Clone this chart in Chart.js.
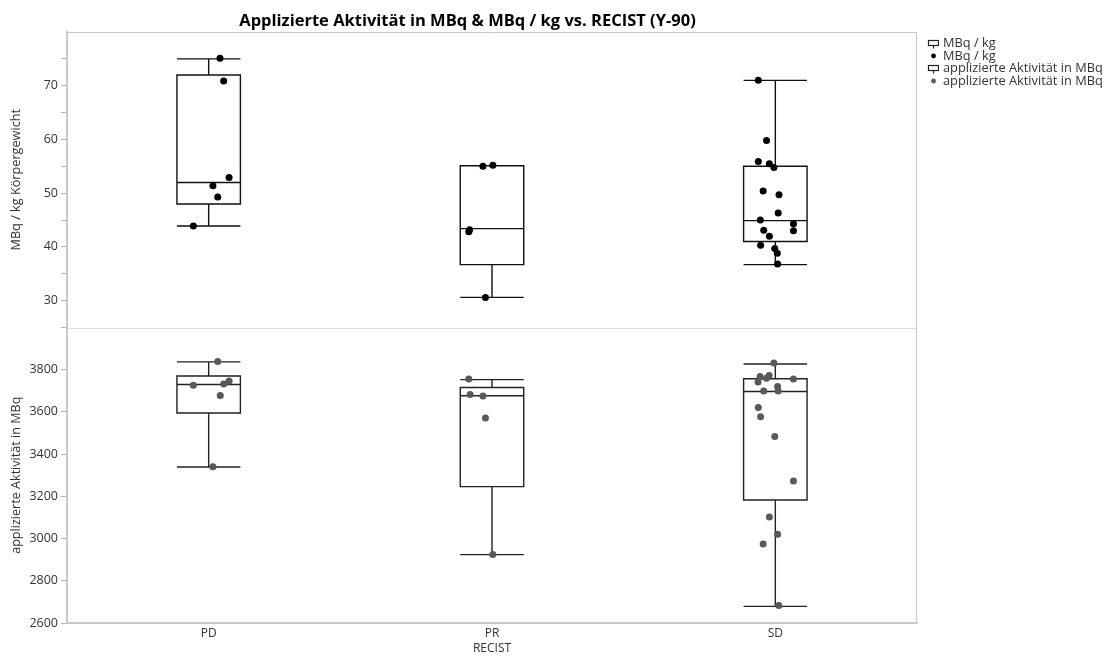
<!DOCTYPE html>
<html>
<head>
<meta charset="utf-8">
<script src="https://cdn.jsdelivr.net/npm/chart.js@4"></script>
<style>
  body { margin: 0; background: #fff; font-family: "Open Sans", sans-serif; }
  #wrap { position: relative; width: 935px; height: 657px; }
  #legend { position: absolute; left: 925px; top: 36px; font-size: 12.8px; color: #333; }
  #legend div { height: 12.5px; line-height: 12.5px; white-space: nowrap; }
  #legend svg { vertical-align: middle; margin-right: 4px; }
</style>
</head>
<body>
<div id="wrap"><canvas id="chart"></canvas></div>
<div id="legend"></div>
<script>
var CATEGORIES = ['PD', 'PR', 'SD'];

// MBq / kg Körpergewicht (upper panel)
var KG_PD = [75.1, 70.9, 52.9, 51.4, 49.3, 43.9];
var KG_PD_JIT = [0.040, 0.053, 0.072, 0.015, 0.032, -0.054];
var KG_PR = [55.0, 55.2, 43.2, 42.8, 30.6];
var KG_PR_JIT = [-0.032, 0.003, -0.079, -0.082, -0.023];
var KG_SD = [71.0, 59.8, 55.9, 55.5, 54.8, 50.4, 49.7, 46.3, 45.0, 44.3, 43.0, 43.1, 42.0, 40.3, 39.7, 38.8, 36.8];
var KG_SD_JIT = [-0.060, -0.031, -0.060, -0.021, -0.005, -0.043, 0.013, 0.010, -0.053, 0.064, 0.064, -0.041, -0.021, -0.052, -0.002, 0.007, 0.008];
var KG_LOW = [43.9, 30.6, 36.7];
var KG_Q1 = [48.0, 36.7, 41.0];
var KG_MED = [52.0, 43.4, 44.9];
var KG_Q3 = [72.0, 55.1, 55.0];
var KG_HIGH = [75.0, 55.1, 71.0];

// applizierte Aktivität in MBq (lower panel)
var MBQ_PD = [3839, 3726, 3732, 3746, 3678, 3340];
var MBQ_PD_JIT = [0.032, -0.054, 0.053, 0.072, 0.041, 0.015];
var MBQ_PR = [3756, 3682, 3675, 3571, 2924];
var MBQ_PR_JIT = [-0.082, -0.077, -0.032, -0.023, 0.003];
var MBQ_SD = [3832, 3768, 3772, 3759, 3742, 3756, 3721, 3699, 3699, 3621, 3577, 3483, 3273, 3102, 3020, 2974, 2683];
var MBQ_SD_JIT = [-0.005, -0.054, -0.022, -0.031, -0.061, 0.064, 0.008, 0.010, -0.041, -0.060, -0.052, -0.002, 0.064, -0.021, 0.008, -0.043, 0.012];
var MBQ_LOW = [3339, 2924, 2679];
var MBQ_Q1 = [3595, 3246, 3183];
var MBQ_MED = [3730, 3677, 3697];
var MBQ_Q3 = [3770, 3716, 3757];
var MBQ_HIGH = [3837, 3753, 3827];

var KG_TICKS = [25, 30, 35, 40, 45, 50, 55, 60, 65, 70, 75];
var MBQ_TICKS = [2600, 2800, 3000, 3200, 3400, 3600, 3800];

var BOX_HALF = 0.112;
var TXT = '#333333';
var FRAME = '#c8c8c8';

function points(groups, jits) {
  var out = [];
  groups.forEach(function(vals, ci) {
    vals.forEach(function(v, k) {
      out.push({ x: ci + jits[ci][k], y: v });
    });
  });
  return out;
}

var boxSets = [
  { axis: 'yTop', low: KG_LOW, q1: KG_Q1, med: KG_MED, q3: KG_Q3, high: KG_HIGH, color: '#111111' },
  { axis: 'yBot', low: MBQ_LOW, q1: MBQ_Q1, med: MBQ_MED, q3: MBQ_Q3, high: MBQ_HIGH, color: '#222222' }
];

var boxPlugin = {
  id: 'boxes',
  beforeDatasetsDraw: function(chart) {
    var ctx = chart.ctx, xs = chart.scales.x;
    var half = BOX_HALF * (xs.getPixelForValue(1) - xs.getPixelForValue(0));
    ctx.save();
    ctx.lineWidth = 1.4;
    boxSets.forEach(function(b) {
      var ys = chart.scales[b.axis];
      ctx.strokeStyle = b.color;
      for (var i = 0; i < CATEGORIES.length; i++) {
        var xc = xs.getPixelForValue(i);
        var lo = ys.getPixelForValue(b.low[i]), q1 = ys.getPixelForValue(b.q1[i]);
        var md = ys.getPixelForValue(b.med[i]), q3 = ys.getPixelForValue(b.q3[i]);
        var hi = ys.getPixelForValue(b.high[i]);
        ctx.beginPath();
        ctx.rect(xc - half, q3, 2 * half, q1 - q3);
        ctx.moveTo(xc - half, md); ctx.lineTo(xc + half, md);
        ctx.moveTo(xc, q3); ctx.lineTo(xc, hi);
        ctx.moveTo(xc, q1); ctx.lineTo(xc, lo);
        ctx.moveTo(xc - half, hi); ctx.lineTo(xc + half, hi);
        ctx.moveTo(xc - half, lo); ctx.lineTo(xc + half, lo);
        ctx.stroke();
      }
    });
    ctx.restore();
  },
  afterDraw: function(chart) {
    var ctx = chart.ctx, a = chart.chartArea;
    var sep = chart.scales.yTop.bottom;
    ctx.save();
    ctx.strokeStyle = FRAME;
    ctx.lineWidth = 1;
    ctx.beginPath();
    ctx.moveTo(a.left, a.top + 0.5); ctx.lineTo(a.right - 0.5, a.top + 0.5);
    ctx.lineTo(a.right - 0.5, a.bottom);
    ctx.stroke();
    ctx.strokeStyle = '#dcdcdc';
    ctx.beginPath();
    ctx.moveTo(a.left, Math.round(sep) + 0.5); ctx.lineTo(a.right, Math.round(sep) + 0.5);
    ctx.stroke();
    ctx.restore();
  }
};

function yScale(min, max, ticks, labelFn, title, titleSize) {
  return {
    type: 'linear',
    position: 'left',
    stack: 'panels',
    stackWeight: 1,
    min: min,
    max: max,
    afterBuildTicks: function(s) { s.ticks = ticks.map(function(v) { return { value: v }; }); },
    afterFit: function(s) { s.width = 67; },
    ticks: { autoSkip: false, color: TXT, font: { family: 'Open Sans', size: 12.5 }, padding: 3, callback: labelFn },
    grid: { drawOnChartArea: false, color: '#b4b4b4', tickLength: 6 },
    border: { color: FRAME, width: 2 },
    title: { display: true, text: title, color: TXT, font: { family: 'Open Sans', size: titleSize }, padding: { top: 9, bottom: 0 } }
  };
}

var config = {
  type: 'scatter',
  data: {
    datasets: [{
      label: 'MBq / kg',
      yAxisID: 'yTop',
      data: points([KG_PD, KG_PR, KG_SD], [KG_PD_JIT, KG_PR_JIT, KG_SD_JIT]),
      backgroundColor: '#000000',
      borderWidth: 0,
      pointRadius: 3.5
    }, {
      label: 'applizierte Aktivität in MBq',
      yAxisID: 'yBot',
      data: points([MBQ_PD, MBQ_PR, MBQ_SD], [MBQ_PD_JIT, MBQ_PR_JIT, MBQ_SD_JIT]),
      backgroundColor: '#595959',
      borderWidth: 0,
      pointRadius: 3.5
    }]
  },
  options: {
    responsive: true,
    maintainAspectRatio: false,
    animation: false,
    layout: { padding: 0 },
    plugins: {
      legend: { display: false },
      tooltip: { enabled: false },
      title: {
        display: true,
        text: 'Applizierte Aktivität in MBq & MBq / kg vs. RECIST (Y-90)',
        color: '#000',
        font: { family: 'Open Sans', size: 16.5, weight: 'bold' },
        padding: { top: 11, bottom: 1.2 }
      }
    },
    scales: {
      x: {
        type: 'linear',
        min: -0.5,
        max: 2.5,
        afterBuildTicks: function(s) { s.ticks = CATEGORIES.map(function(c, i) { return { value: i }; }); },
        afterFit: function(s) { s.height = 34; },
        ticks: { autoSkip: false, color: TXT, font: { family: 'Open Sans', size: 12 }, padding: 3, callback: function(v) { return CATEGORIES[v]; } },
        grid: { display: false, drawTicks: false, tickLength: 0 },
        border: { color: FRAME, width: 2 },
        title: { display: true, text: 'RECIST', color: TXT, font: { family: 'Open Sans', size: 12 }, padding: { top: 0, bottom: 1 } }
      },
      // defined bottom panel first: later stacked axes are placed on top
      yBot: yScale(2600, 4000, MBQ_TICKS, function(v) { return v; }, 'applizierte Aktivität in MBq', 12.6),
      yTop: yScale(25, 80, KG_TICKS, function(v) { return v % 10 === 0 ? v : ''; }, 'MBq / kg Körpergewicht', 12.7),
      // empty right-hand gap so the plot ends before the legend column
      gap: {
        type: 'linear',
        position: 'right',
        min: 0,
        max: 1,
        afterFit: function(s) { s.width = 18; },
        ticks: { display: false },
        grid: { display: false },
        border: { display: false }
      }
    }
  },
  plugins: [boxPlugin]
};

function boxIcon() {
  return '<svg width="14" height="10"><rect x="3.5" y="1.5" width="10" height="5" fill="none" stroke="#222" stroke-width="1.2"/>' +
    '<line x1="8.5" y1="6.5" x2="8.5" y2="9.5" stroke="#222" stroke-width="1.2"/></svg>';
}
function dotIcon(c) {
  return '<svg width="14" height="10"><circle cx="8.5" cy="5" r="2.4" fill="' + c + '"/></svg>';
}

window.onload = function() {
  var ctx = document.getElementById('chart').getContext('2d');
  window.myChart = new Chart(ctx, config);
  var html = '';
  config.data.datasets.forEach(function(ds) {
    html += '<div>' + boxIcon() + ds.label + '</div>';
    html += '<div>' + dotIcon(ds.backgroundColor) + ds.label + '</div>';
  });
  document.getElementById('legend').innerHTML = html;
};
</script>
</body>
</html>
